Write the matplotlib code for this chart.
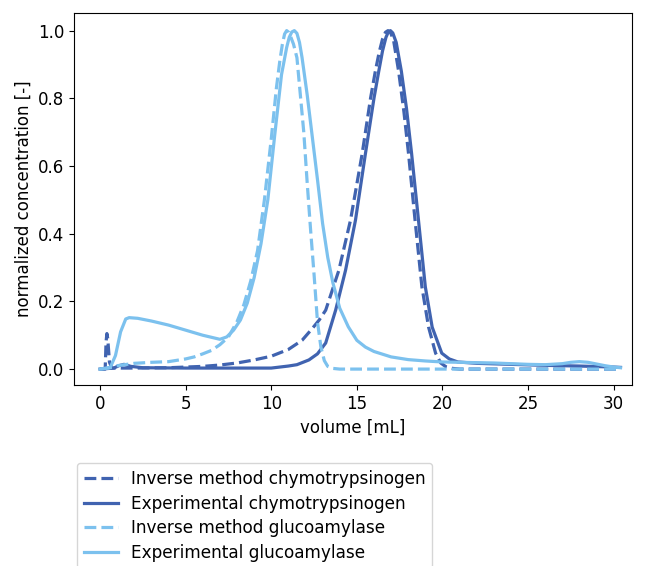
import numpy as np
import matplotlib
matplotlib.use("Agg")
import matplotlib.pyplot as plt

# chromatogram data (volume [mL], normalized concentration)
inv_chy_x = [0.0, 0.3, 0.35, 0.4, 0.45, 0.55, 0.7, 2.0, 4.0, 6.0, 7.0, 8.0, 9.0, 10.0,
             11.0, 11.8, 12.4, 12.8, 13.18, 13.95, 14.63, 15.31, 15.8, 16.08, 16.3,
             16.5, 16.67, 16.82, 16.98, 17.15, 17.44, 17.75, 18.02, 18.4, 18.8, 19.19,
             19.6, 19.9, 20.2, 20.6, 21.0, 25.0, 30.4]
inv_chy_y = [0.0, 0.0, 0.08, 0.105, 0.09, 0.02, 0.003, 0.003, 0.004, 0.008, 0.012, 0.018,
             0.027, 0.038, 0.058, 0.085, 0.12, 0.145, 0.174, 0.292, 0.44, 0.636, 0.8,
             0.88, 0.935, 0.975, 0.995, 1.0, 0.993, 0.97, 0.88, 0.76, 0.636, 0.44, 0.243,
             0.124, 0.047, 0.018, 0.007, 0.002, 0.0, 0.0, 0.0]

exp_chy_x = [0.0, 0.8, 1.1, 1.4, 1.8, 2.5, 5.0, 10.0, 10.5, 11.0, 11.5, 12.2, 12.7, 13.18,
             13.76, 14.34, 14.92, 15.5, 16.0, 16.28, 16.5, 16.7, 16.83, 16.96, 17.1,
             17.3, 17.6, 17.9, 18.2, 18.6, 19.0, 19.4, 19.96, 20.4, 20.9, 22.0, 24.0,
             26.0, 28.0, 30.0, 30.4]
exp_chy_y = [0.0, 0.003, 0.01, 0.014, 0.008, 0.004, 0.003, 0.003, 0.006, 0.009, 0.013,
             0.027, 0.045, 0.077, 0.174, 0.292, 0.44, 0.636, 0.8, 0.88, 0.94, 0.98,
             0.995, 1.0, 0.993, 0.965, 0.88, 0.77, 0.636, 0.44, 0.243, 0.124, 0.047,
             0.03, 0.021, 0.017, 0.014, 0.011, 0.009, 0.006, 0.005]

inv_glu_x = [0.0, 0.5, 1.0, 2.0, 3.0, 4.0, 5.0, 5.5, 6.0, 6.5, 7.0, 7.5, 8.0, 8.4, 8.8,
             9.2, 9.6, 10.0, 10.3, 10.5, 10.65, 10.78, 10.9, 11.02, 11.15, 11.3, 11.5,
             11.7, 11.9, 12.1, 12.3, 12.5, 12.7, 12.9, 13.1, 13.3, 13.6, 14.0, 20.0,
             25.0, 30.4]
inv_glu_y = [0.0, 0.003, 0.01, 0.017, 0.02, 0.022, 0.03, 0.036, 0.045, 0.055, 0.072,
             0.095, 0.14, 0.19, 0.26, 0.35, 0.5, 0.68, 0.83, 0.91, 0.96, 0.99, 1.0,
             0.995, 0.98, 0.96, 0.92, 0.81, 0.7, 0.55, 0.41, 0.28, 0.14, 0.065, 0.025,
             0.008, 0.002, 0.0, 0.0, 0.0, 0.0]

exp_glu_x = [0.0, 0.6, 0.9, 1.2, 1.5, 1.7, 2.2, 3.0, 4.0, 5.0, 6.0, 7.0, 7.4, 7.8, 8.2,
             8.6, 9.0, 9.4, 9.8, 10.2, 10.6, 10.9, 11.05, 11.2, 11.35, 11.5, 11.65, 11.8,
             12.1, 12.4, 12.7, 13.0, 13.3, 13.6, 14.0, 14.5, 15.0, 15.5, 16.0, 17.0,
             18.0, 19.0, 20.0, 21.0, 22.0, 23.0, 24.0, 25.0, 26.0, 27.0, 27.5, 28.0,
             28.5, 29.0, 29.5, 30.0, 30.4]
exp_glu_y = [0.0, 0.005, 0.04, 0.11, 0.148, 0.152, 0.15, 0.142, 0.13, 0.115, 0.1, 0.088,
             0.095, 0.115, 0.145, 0.195, 0.27, 0.37, 0.5, 0.69, 0.87, 0.95, 0.98, 0.996,
             1.0, 0.992, 0.965, 0.92, 0.81, 0.685, 0.56, 0.43, 0.33, 0.255, 0.18, 0.125,
             0.085, 0.065, 0.052, 0.036, 0.028, 0.024, 0.021, 0.02, 0.019, 0.018, 0.016,
             0.014, 0.013, 0.016, 0.02, 0.022, 0.02, 0.015, 0.01, 0.006, 0.004]

labels = ["Inverse method chymotrypsinogen", "Experimental chymotrypsinogen",
          "Inverse method glucoamylase", "Experimental glucoamylase"]

dark = "#4063b0"
light = "#7cc1ee"

plt.rcParams["font.size"] = 12

fig = plt.figure(figsize=(6.46, 5.66), dpi=100)
ax = fig.add_axes([0.1146, 0.3198, 0.978 - 0.1146, 0.9776 - 0.3198])

ax.plot(inv_chy_x, inv_chy_y, "--", color=dark, lw=2.3, label=labels[0])
ax.plot(exp_chy_x, exp_chy_y, "-", color=dark, lw=2.3, label=labels[1])
ax.plot(inv_glu_x, inv_glu_y, "--", color=light, lw=2.3, label=labels[2])
ax.plot(exp_glu_x, exp_glu_y, "-", color=light, lw=2.3, label=labels[3])

ax.set_xlim(-1.52, 31.06)
ax.set_ylim(-0.047, 1.053)
ax.set_xticks([0, 5, 10, 15, 20, 25, 30])
ax.set_xlabel("volume [mL]")
ax.set_ylabel("normalized concentration [-]")

fig.legend(loc="upper left", bbox_to_anchor=(0.119, 0.182),
           bbox_transform=fig.transFigure, borderaxespad=0,
           fontsize=12.2, labelspacing=0.4)

fig.savefig("out.png", dpi=100)
